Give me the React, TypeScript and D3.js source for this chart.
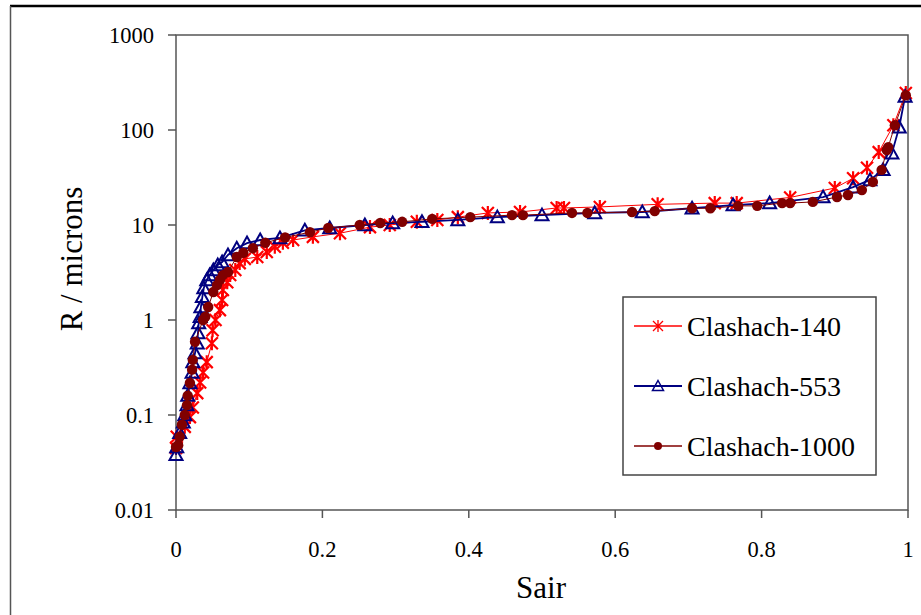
import React from "react";
import * as d3 from "d3";

const sair140 = [0, 0.001, 0.012, 0.019, 0.023, 0.029, 0.033, 0.037, 0.042, 0.049, 0.05, 0.054, 0.06, 0.063, 0.064, 0.07, 0.074, 0.081, 0.087, 0.094, 0.111, 0.124, 0.135, 0.146, 0.16, 0.187, 0.224, 0.265, 0.292, 0.329, 0.357, 0.385, 0.426, 0.47, 0.52, 0.53, 0.579, 0.658, 0.736, 0.766, 0.839, 0.9, 0.925, 0.944, 0.96, 0.98, 0.997];
const r140 = [0.045, 0.059, 0.075, 0.095, 0.12, 0.17, 0.22, 0.28, 0.36, 0.57, 0.78, 1.0, 1.27, 1.62, 2.07, 2.5, 2.97, 3.36, 3.97, 4.4, 4.6, 5.2, 5.9, 6.5, 6.95, 7.5, 8.2, 9.5, 10, 10.8, 11.3, 12.1, 13.4, 13.7, 15.1, 15.1, 15.5, 16.5, 17, 17, 19.5, 24.5, 31, 40, 58.5, 112, 245];

const sair553 = [0, 0.001, 0.005, 0.01, 0.012, 0.015, 0.016, 0.019, 0.022, 0.023, 0.026, 0.029, 0.03, 0.031, 0.033, 0.034, 0.036, 0.038, 0.042, 0.046, 0.051, 0.057, 0.063, 0.071, 0.083, 0.097, 0.115, 0.142, 0.176, 0.21, 0.258, 0.296, 0.336, 0.385, 0.439, 0.5, 0.572, 0.637, 0.705, 0.761, 0.811, 0.884, 0.925, 0.948, 0.966, 0.978, 0.988, 0.996];
const r553 = [0.038, 0.046, 0.065, 0.084, 0.1, 0.127, 0.16, 0.217, 0.28, 0.36, 0.45, 0.57, 0.73, 0.93, 1.08, 1.37, 1.75, 2.17, 2.64, 2.97, 3.36, 3.79, 4.08, 4.83, 5.7, 6.45, 6.95, 7.3, 8.8, 9.3, 10, 10.5, 10.8, 11.3, 12.1, 12.7, 13.4, 13.7, 15, 16.2, 17, 19.7, 25, 29.8, 38, 57, 107, 225];

const sair1000 = [0, 0.003, 0.005, 0.008, 0.012, 0.015, 0.016, 0.019, 0.022, 0.023, 0.026, 0.037, 0.04, 0.044, 0.051, 0.056, 0.06, 0.064, 0.071, 0.083, 0.092, 0.105, 0.122, 0.149, 0.183, 0.208, 0.251, 0.279, 0.309, 0.35, 0.402, 0.459, 0.474, 0.541, 0.562, 0.623, 0.654, 0.705, 0.73, 0.768, 0.794, 0.828, 0.839, 0.87, 0.903, 0.918, 0.937, 0.952, 0.964, 0.971, 0.973, 0.982, 0.997];
const r1000 = [0.046, 0.048, 0.059, 0.079, 0.1, 0.127, 0.16, 0.217, 0.3, 0.38, 0.59, 1.0, 1.08, 1.37, 1.97, 2.33, 2.64, 2.97, 3.2, 4.6, 5.1, 5.7, 6.5, 7.4, 8.4, 9.3, 10, 10.5, 10.8, 11.6, 12.1, 12.7, 12.7, 13.4, 13.4, 13.7, 14, 15, 15, 15.9, 15.9, 17, 17, 17.5, 19.7, 20.7, 23.3, 28.4, 38, 61.5, 66, 112, 232];

const xTicks = [0, 0.2, 0.4, 0.6, 0.8, 1];
const xTickLabels = ["0", "0.2", "0.4", "0.6", "0.8", "1"];
const yTicks = [0.01, 0.1, 1, 10, 100, 1000];
const yTickLabels = ["0.01", "0.1", "1", "10", "100", "1000"];
const seriesNames = ["Clashach-140", "Clashach-553", "Clashach-1000"];

const FONT = "Liberation Serif, serif";
const tStyle = { fontFamily: FONT };

function Marker({ kind, x, y, legend }: { kind: string; x: number; y: number; legend?: boolean }) {
  if (kind === "star") {
    const s = legend ? 5 : 6;
    return (
      <path
        d={`M${x},${y - s - 1}V${y + s + 1}M${x - s},${y - s}L${x + s},${y + s}M${x - s},${y + s}L${x + s},${y - s}`}
        stroke="#ff0000"
        strokeWidth={legend ? 1.3 : 2.2}
        fill="none"
      />
    );
  }
  if (kind === "tri") {
    const s = legend ? 5.5 : 6.5;
    return (
      <path
        d={`M${x},${y - s}L${x + s},${y + s * 0.8}L${x - s},${y + s * 0.8}Z`}
        stroke="#000080"
        strokeWidth={legend ? 1.5 : 2}
        fill="none"
      />
    );
  }
  return <circle cx={x} cy={y} r={legend ? 4 : 5.2} fill="#800000" />;
}

export default function App() {
  const x = d3.scaleLinear().domain([0, 1]).range([176, 908]);
  const y = d3.scaleLog().domain([0.01, 1000]).range([510, 35]);
  const line = d3
    .line<[number, number]>()
    .x((d) => x(d[0]))
    .y((d) => y(d[1]));

  const series = [
    { name: seriesNames[0], xs: sair140, ys: r140, color: "#ff0000", width: 1, kind: "star" },
    { name: seriesNames[1], xs: sair553, ys: r553, color: "#000080", width: 1.8, kind: "tri" },
    { name: seriesNames[2], xs: sair1000, ys: r1000, color: "#800000", width: 1, kind: "circle" },
  ];

  const legendY = [326, 386, 446];

  return (
    <svg width={921} height={615} style={{ position: "absolute", left: 0, top: 0, background: "#fff" }}>
      <rect x={0} y={0} width={921} height={615} fill="#fff" />
      <line x1={10} y1={6} x2={921} y2={6} stroke="#000" strokeWidth={2.5} />
      <line x1={10.5} y1={6} x2={10.5} y2={615} stroke="#555" strokeWidth={1.5} />

      <rect x={176} y={35} width={732} height={475} fill="none" stroke="#555" strokeWidth={1.5} />

      {yTicks.map((t, i) => (
        <g key={"y" + i}>
          <line x1={168} x2={176} y1={y(t)} y2={y(t)} stroke="#555" strokeWidth={1.5} />
          <text x={154} y={y(t) + 8} textAnchor="end" fontSize={22.5} fill="#000" style={tStyle}>
            {yTickLabels[i]}
          </text>
        </g>
      ))}
      {xTicks.map((t, i) => (
        <g key={"x" + i}>
          <line x1={x(t)} x2={x(t)} y1={510} y2={518} stroke="#555" strokeWidth={1.5} />
          <text x={x(t)} y={557} textAnchor="middle" fontSize={22.5} fill="#000" style={tStyle}>
            {xTickLabels[i]}
          </text>
        </g>
      ))}

      <text x={541} y={598} textAnchor="middle" fontSize={31} fill="#000" style={tStyle}>
        Sair
      </text>
      <text transform={`translate(82,259) rotate(-90)`} textAnchor="middle" fontSize={31} fill="#000" style={tStyle}>
        R / microns
      </text>

      {series.map((s, si) => {
        const pts: [number, number][] = s.xs.map((v, i) => [v, s.ys[i]]);
        return (
          <g key={"s" + si}>
            <path d={line(pts) || ""} fill="none" stroke={s.color} strokeWidth={s.width} />
            {pts.map((p, i) => (
              <Marker key={i} kind={s.kind} x={x(p[0])} y={y(p[1])} />
            ))}
          </g>
        );
      })}

      <rect x={623} y={297} width={253} height={178} fill="#fff" stroke="#444" strokeWidth={1.5} />
      {series.map((s, i) => (
        <g key={"l" + i}>
          <line x1={634} x2={682} y1={legendY[i]} y2={legendY[i]} stroke={s.color} strokeWidth={s.width + 0.3} />
          <Marker kind={s.kind} x={658} y={legendY[i]} legend />
          <text x={687} y={legendY[i] + 10} fontSize={28} fill="#000" style={tStyle}>
            {s.name}
          </text>
        </g>
      ))}
    </svg>
  );
}
